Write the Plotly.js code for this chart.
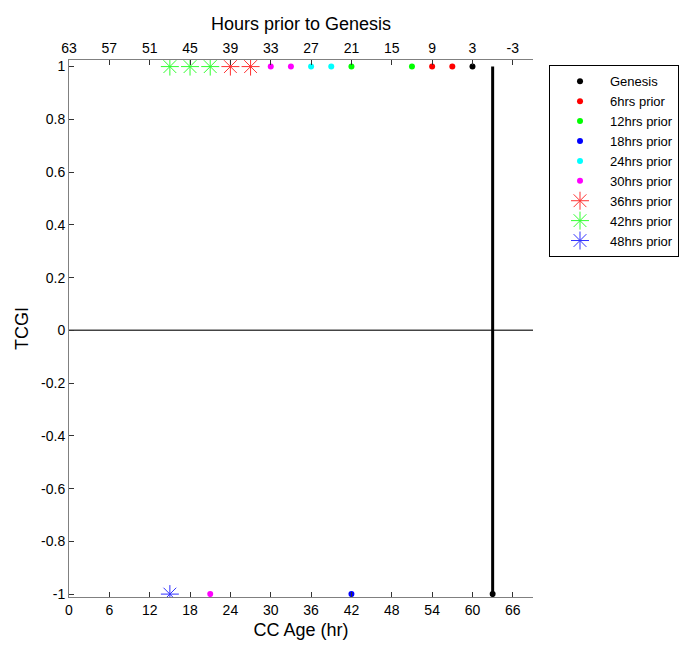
<!DOCTYPE html>
<html><head><meta charset="utf-8">
<script src="https://cdn.plot.ly/plotly-3.0.1.min.js"></script>
<style>body{margin:0;background:#fff}#c{width:694px;height:655px}</style>
</head><body><div id="c"></div>
<script>
// Series: CC age (hr) and TCGI values
const seriesNames = ['Genesis','6hrs prior','12hrs prior','18hrs prior','24hrs prior','30hrs prior','36hrs prior','42hrs prior','48hrs prior'];
const genesisX = [60, 63];      const genesisY = [1, -1];
const prior6X = [54, 57];       const prior6Y = [1, 1];
const prior12X = [42, 51];      const prior12Y = [1, 1];
const prior18X = [42];          const prior18Y = [-1];
const prior24X = [36, 39];      const prior24Y = [1, 1];
const prior30X = [30, 33, 21];  const prior30Y = [1, 1, -1];
const prior36X = [24, 27];      const prior36Y = [1, 1];
const prior42X = [15, 18, 21];  const prior42Y = [1, 1, 1];
const prior48X = [15];          const prior48Y = [-1];
// Reference lines
const genesisLineX = [63, 63];  const genesisLineY = [-1, 1];
const zeroLineX = [0, 69];      const zeroLineY = [0, 0];
// Tick labels
const bottomTicks = [0,6,12,18,24,30,36,42,48,54,60,66];
const topTicks = [63,57,51,45,39,33,27,21,15,9,3,-3];
const yTicks = [1,0.8,0.6,0.4,0.2,0,-0.2,-0.4,-0.6,-0.8,-1];

const dotColors = ['#000000','#ff0000','#00ff00','#0000ff','#00ffff','#ff00ff'];
const starColors = ['#ff3030','#30ff30','#3030ff'];
const xs = [genesisX, prior6X, prior12X, prior18X, prior24X, prior30X, prior36X, prior42X, prior48X];
const ys = [genesisY, prior6Y, prior12Y, prior18Y, prior24Y, prior30Y, prior36Y, prior42Y, prior48Y];

const traces = [];
traces.push({x: zeroLineX, y: zeroLineY, mode:'lines', line:{color:'#444444', width:1.5}, showlegend:false, hoverinfo:'skip'});
traces.push({x: genesisLineX, y: genesisLineY, mode:'lines', line:{color:'#000000', width:3}, showlegend:false, hoverinfo:'skip'});
for (let i = 0; i < 9; i++) {
  if (i < 6) {
    traces.push({x: xs[i], y: ys[i], name: seriesNames[i], mode:'markers',
      marker:{symbol:'circle', size:6, color: dotColors[i]}});
  } else {
    traces.push({x: xs[i], y: ys[i], name: seriesNames[i], mode:'markers',
      marker:{symbol:'asterisk-open', size:15, color: starColors[i-6], line:{color: starColors[i-6], width:1}}});
  }
}
// invisible trace to create top axis
traces.push({x: [63, -6], y: [0, 0], xaxis:'x2', mode:'markers', marker:{opacity:0}, showlegend:false, hoverinfo:'skip'});

const fam = '"Liberation Sans", Arial, sans-serif';
const tickFont = {family:fam, size:14, color:'#000'};
const titleFont = {family:fam, size:18, color:'#000'};
const layout = {
  width:694, height:655,
  margin:{l:69, r:161, t:60, b:58, autoexpand:false},
  paper_bgcolor:'#fff', plot_bgcolor:'#fff',
  font: tickFont,
  showlegend:true,
  legend:{x:1.0345, xanchor:'left', y:0.990, yanchor:'top', bgcolor:'#fff', bordercolor:'#000', borderwidth:1,
    font:{family:fam, size:13, color:'#000'}, tracegroupgap:0, itemsizing:'trace', itemwidth:50},
  xaxis:{range:[0,69], autorange:false, tickvals: bottomTicks, ticktext: bottomTicks.map(String),
    ticks:'inside', ticklen:5, tickcolor:'#333', showgrid:false, zeroline:false,
    showline:true, linecolor:'#808080', linewidth:1, mirror:false,
    title:{text:'CC Age (hr)', font:titleFont, standoff:6},
    tickfont:tickFont},
  xaxis2:{range:[63,-6], autorange:false, overlaying:'x', side:'top', tickvals: topTicks, ticktext: topTicks.map(String),
    ticks:'inside', ticklen:5, tickcolor:'#333', showgrid:false, zeroline:false,
    showline:true, linecolor:'#808080', linewidth:1,
    title:{text:'Hours prior to Genesis', font:titleFont, standoff:5},
    tickfont:tickFont},
  yaxis:{range:[-1.011, 1.025], autorange:false, tickvals: yTicks, ticktext: yTicks.map(String),
    ticks:'inside', ticklen:5, tickcolor:'#333', showgrid:false, zeroline:false,
    showline:true, linecolor:'#808080', linewidth:1,
    title:{text:'TCGI', font:titleFont, standoff:7},
    tickfont:tickFont}
};
Plotly.newPlot('c', traces, layout, {staticPlot:true});
</script></body></html>
